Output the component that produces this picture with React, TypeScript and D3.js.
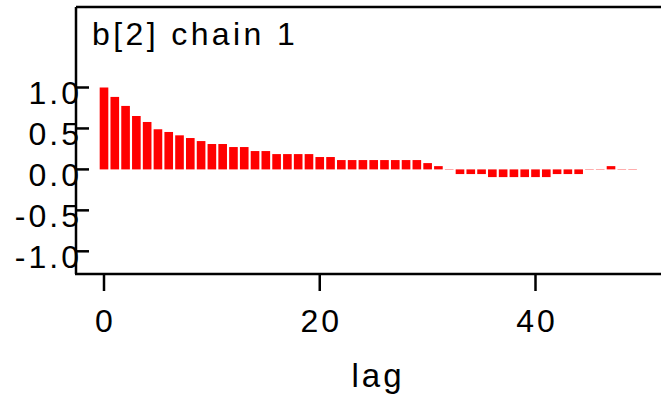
// AutocorrChart.tsx

import React, { useRef, useEffect } from "react";
import * as d3 from "d3";

// autocorrelation of b[2], chain 1, lags 0..49
const lags = d3.range(0, 50);
const acf = [
  1.0, 0.885, 0.775, 0.652, 0.579, 0.49, 0.457, 0.416, 0.383, 0.346,
  0.31, 0.31, 0.273, 0.273, 0.224, 0.224, 0.187, 0.187, 0.187, 0.187,
  0.151, 0.151, 0.114, 0.114, 0.114, 0.114, 0.114, 0.114, 0.114, 0.114,
  0.077, 0.04, 0.004, -0.057, -0.057, -0.057, -0.094, -0.094, -0.094, -0.094,
  -0.094, -0.094, -0.057, -0.057, -0.057, 0.004, 0.004, 0.04, 0.004, 0.004,
];
const yTicks = [1.0, 0.5, 0.0, -0.5, -1.0];
const xTicks = [0, 20, 40];
const title = "b[2] chain 1";
const xLabel = "lag";

const W = 661;
const H = 397;
const FONT = "'Liberation Sans', Arial, sans-serif";

const App: React.FC = () => {
  const ref = useRef<SVGSVGElement | null>(null);

  useEffect(() => {
    const svg = d3.select(ref.current);
    svg.selectAll("*").remove();

    const frame = { left: 76, top: 7, bottom: 274 };

    const x = d3.scaleLinear().domain([0, 40]).range([104, 535.5]);
    const y = d3.scaleLinear().domain([-1, 1]).range([251.3, 87.5]);
    const barW = (x(1) - x(0)) * 0.8;

    // bars
    svg
      .append("g")
      .selectAll("rect")
      .data(lags)
      .enter()
      .append("rect")
      .attr("x", d => x(d) - barW / 2)
      .attr("y", d => Math.min(y(acf[d]), y(0)))
      .attr("width", barW)
      .attr("height", d => Math.abs(y(acf[d]) - y(0)))
      .attr("fill", "#ff0000");

    // frame lines
    const line = (x1: number, y1: number, x2: number, y2: number) =>
      svg
        .append("line")
        .attr("x1", x1)
        .attr("y1", y1)
        .attr("x2", x2)
        .attr("y2", y2)
        .attr("stroke", "#000")
        .attr("stroke-width", 2.5);

    line(frame.left, frame.top, W, frame.top);
    line(frame.left, frame.top, frame.left, frame.bottom);
    line(frame.left - 1, frame.bottom, W, frame.bottom);

    // y ticks (pointing inwards)
    const yg = svg.append("g");
    yTicks.forEach(t => {
      line(frame.left, y(t), frame.left + 13, y(t));
      yg.append("text")
        .attr("x", 82)
        .attr("y", y(t) + 16.5)
        .attr("text-anchor", "end")
        .attr("font-family", FONT)
        .attr("font-size", 32)
        .attr("letter-spacing", 3)
        .attr("fill", "#000")
        .text(t.toFixed(1));
    });

    // x ticks (pointing outwards)
    xTicks.forEach(t => {
      line(x(t), frame.bottom, x(t), frame.bottom + 17);
      svg
        .append("text")
        .attr("x", x(t) + 1.5)
        .attr("y", 332)
        .attr("text-anchor", "middle")
        .attr("font-family", FONT)
        .attr("font-size", 32)
        .attr("letter-spacing", 3)
        .attr("fill", "#000")
        .text(String(t));
    });

    svg
      .append("text")
      .attr("x", 92)
      .attr("y", 45)
      .attr("font-family", FONT)
      .attr("font-size", 32)
      .attr("letter-spacing", 3.4)
      .attr("fill", "#000")
      .text(title);

    svg
      .append("text")
      .attr("x", 378)
      .attr("y", 387)
      .attr("text-anchor", "middle")
      .attr("font-family", FONT)
      .attr("font-size", 33)
      .attr("letter-spacing", 3)
      .attr("fill", "#000")
      .text(xLabel);
  }, []);

  return (
    <svg
      ref={ref}
      width={W}
      height={H}
      style={{ position: "absolute", left: 0, top: 0, background: "#fff" }}
    />
  );
};

export default App;
